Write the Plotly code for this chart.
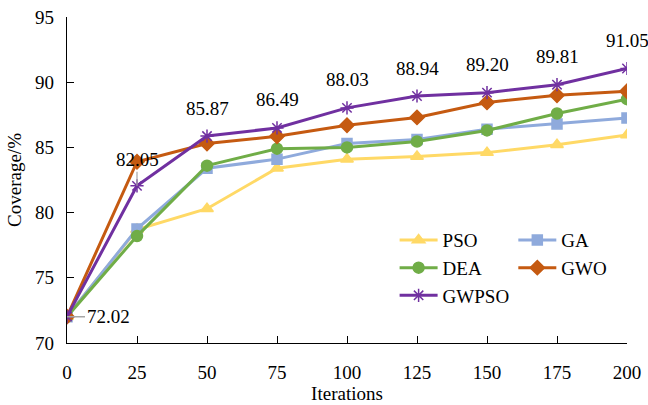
import plotly.graph_objects as go

iterations = [0, 25, 50, 75, 100, 125, 150, 175, 200]
pso = [72.02, 78.7, 80.3, 83.4, 84.1, 84.3, 84.6, 85.2, 85.95]
ga = [72.02, 78.75, 83.4, 84.1, 85.3, 85.6, 86.4, 86.8, 87.25]
dea = [72.02, 78.2, 83.6, 84.9, 85.0, 85.45, 86.3, 87.6, 88.7]
gwo = [72.02, 83.9, 85.3, 85.85, 86.7, 87.3, 88.45, 89.0, 89.3]
gwpso = [72.02, 82.05, 85.87, 86.49, 88.03, 88.94, 89.20, 89.81, 91.05]
y_ticks = [70, 75, 80, 85, 90, 95]

FONT = "Liberation Serif"
FS = 19
TXT = dict(family=FONT, size=FS, color="black")

fig = go.Figure()
series = [
    ("PSO", pso, "#FFD966", "triangle-up", 11, "legend"),
    ("GA", ga, "#8FAADC", "square", 10, "legend2"),
    ("DEA", dea, "#70AD47", "circle", 11, "legend"),
    ("GWO", gwo, "#C55A11", "diamond", 11, "legend2"),
    ("GWPSO", gwpso, "#7030A0", "asterisk-open", 11, "legend"),
]
for name, vals, col, sym, sz, lg in series:
    fig.add_trace(go.Scatter(
        x=iterations, y=vals, name=name, mode="lines+markers",
        line=dict(color=col, width=3),
        marker=dict(symbol=sym, size=sz, color=col,
                    line=dict(color=col, width=1.5)),
        legend=lg,
    ))

# labels on GWPSO
for i, (xv, yv) in enumerate(zip(iterations, gwpso)):
    if i == 0:
        fig.add_annotation(x=xv, y=yv, text=f"{yv:.2f}", showarrow=True,
                           arrowhead=0, arrowcolor="#A6A6A6", arrowwidth=1.5,
                           ax=41, ay=0, font=TXT)
    elif i == 1:
        fig.add_annotation(x=xv, y=yv, text=f"{yv:.2f}", showarrow=True,
                           arrowhead=0, arrowcolor="#A6A6A6", arrowwidth=1.2,
                           ax=0, ay=-26, font=TXT)
    else:
        fig.add_annotation(x=xv, y=yv, text=f"{yv:.2f}", showarrow=False,
                           yshift=28, font=TXT)

legend_style = dict(font=TXT, bgcolor="rgba(0,0,0,0)", tracegroupgap=0,
                    xanchor="left", yanchor="top", itemwidth=38)

fig.update_layout(
    width=648, height=405,
    margin=dict(l=67, r=21, t=17, b=62, autoexpand=False),
    paper_bgcolor="white", plot_bgcolor="white",
    font=TXT,
    showlegend=True,
    legend=dict(x=0.585, y=0.374, **legend_style),
    legend2=dict(x=0.797, y=0.374, **legend_style),
    xaxis=dict(
        range=[0, 200], tickvals=iterations, ticks="inside", ticklen=7,
        tickwidth=1.2, tickcolor="black", showline=True, linecolor="black",
        linewidth=1.3, showgrid=False, zeroline=False, automargin=False,
        ticklabelstandoff=12, tickfont=TXT,
        title=dict(text="Iterations", standoff=4, font=TXT),
    ),
    yaxis=dict(
        range=[70, 95], tickvals=y_ticks, ticks="inside", ticklen=7,
        tickwidth=1.2, tickcolor="black", showline=True, linecolor="black",
        linewidth=1.3, showgrid=False, zeroline=False, automargin=False,
        ticklabelstandoff=8, tickfont=TXT,
        title=dict(text="Coverage/%", standoff=8, font=TXT),
    ),
)

fig.write_html("out.html")
